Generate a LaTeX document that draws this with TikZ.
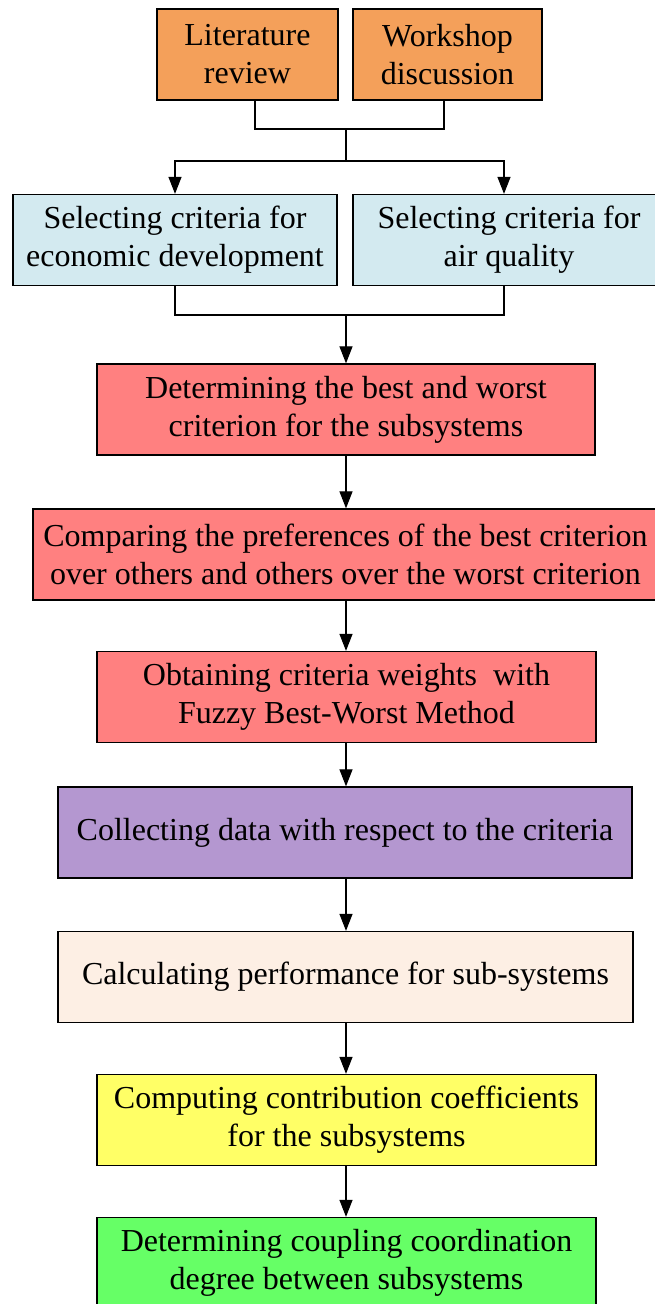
\documentclass[tikz,border=0pt]{standalone}
\usepackage{fontspec}
\setmainfont{Liberation Serif}
\usetikzlibrary{arrows.meta,calc}
\definecolor{orng}{RGB}{244,160,90}
\definecolor{lblue}{RGB}{211,234,240}
\definecolor{lred}{RGB}{255,128,128}
\definecolor{lpurp}{RGB}{180,151,208}
\definecolor{beige}{RGB}{253,239,228}
\definecolor{lyel}{RGB}{255,255,102}
\definecolor{lgrn}{RGB}{102,255,102}
\begin{document}
\begin{tikzpicture}[x=1pt,y=-1pt,
 box/.style={draw=black,line width=1.3pt,minimum height=91pt,inner sep=0pt,align=center,font=\fontsize{32}{38}\selectfont},
 arr/.style={line width=1.2pt,-{Triangle[length=17pt,width=13pt]}},
 ln/.style={line width=1.2pt}]
\useasboundingbox (0,0) rectangle (655,1304);
\clip (0,0) rectangle (655,1304);
\node[box,fill=orng,minimum width=181pt] (lit) at (247.5,54.5) {Literature\\review};
\node[box,fill=orng,minimum width=189pt] (work) at (447.5,54.5) {Workshop\\discussion};
\node[box,fill=lblue,minimum width=324pt] (econ) at (175,240) {Selecting criteria for\\economic development};
\node[box,fill=lblue,minimum width=312pt] (air) at (509,240) {Selecting criteria for\\air quality};
\node[box,fill=lred,minimum width=498pt] (best) at (346,409.5) {Determining the best and worst\\criterion for the subsystems};
\node[box,fill=lred,minimum width=625pt] (comp) at (345.5,554.5) {Comparing the preferences of the best criterion\\over others and others over the worst criterion};
\node[box,fill=lred,minimum width=499pt] (fuzzy) at (346.5,697) {Obtaining criteria weights\ \ with\\Fuzzy Best-Worst Method};
\node[box,fill=lpurp,minimum width=574pt] (coll) at (345,832.5) {Collecting data with respect to the criteria};
\node[box,fill=beige,minimum width=575pt] (calc) at (345.5,977) {Calculating performance for sub-systems};
\node[box,fill=lyel,minimum width=499pt] (contr) at (346.5,1120) {Computing contribution coefficients\\for the subsystems};
\node[box,fill=lgrn,minimum width=499pt] (coup) at (346.5,1263) {Determining coupling coordination\\degree between subsystems};
\coordinate (m1) at (346,129);
\coordinate (s1) at (346,161);
\coordinate (m2) at (346,315);
\draw[ln] ($(lit.south)+(7.5,0)$) |- (m1) -| ($(work.south)+(-3.5,0)$);
\draw[ln] (m1) -- (s1);
\draw[arr] (s1) -| (econ.north);
\draw[arr] (s1) -| ($(air.north)+(-5,0)$);
\draw[ln] (econ.south) |- (m2) -| ($(air.south)+(-5,0)$);
\draw[arr] (m2) -- (m2 |- best.north);
\draw[arr] (best.south) -- (best.south |- comp.north);
\draw[arr] (best.south |- comp.south) -- (best.south |- fuzzy.north);
\draw[arr] (best.south |- fuzzy.south) -- (best.south |- coll.north);
\draw[arr] (best.south |- coll.south) -- (best.south |- calc.north);
\draw[arr] (best.south |- calc.south) -- (best.south |- contr.north);
\draw[arr] (best.south |- contr.south) -- (best.south |- coup.north);
\end{tikzpicture}
\end{document}
